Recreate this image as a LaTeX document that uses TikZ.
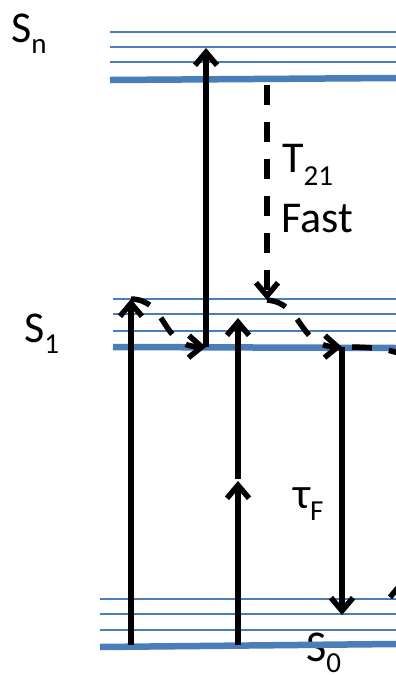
\documentclass[tikz,border=0pt]{standalone}
\usepackage{fontspec}
\setmainfont{Carlito}
\usetikzlibrary{arrows.meta}
\definecolor{lvl}{HTML}{4A7EBB}
\begin{document}
\begin{tikzpicture}[x=1pt,y=-1pt,
  thinlevel/.style={draw=lvl, line width=2pt},
  thicklevel/.style={draw=lvl, line width=6.5pt},
  arr/.style={line width=5.5pt, -{Straight Barb[length=13pt,width=22pt]}},
  darr/.style={arr, dash pattern=on 20pt off 17pt},
  dline/.style={line width=5.5pt, dash pattern=on 20pt off 17pt},
  lbl/.style={inner sep=0pt, anchor=base west, font=\fontsize{44}{44}\selectfont}]
\useasboundingbox (0,0) rectangle (396,675);
\clip (0,0) rectangle (396,675);
% labels
\node[lbl] (lsn) at (11,42) {S\raisebox{-11pt}{\fontsize{29}{29}\selectfont n}};
\node[lbl] (ls1) at (24,342) {S\raisebox{-11pt}{\fontsize{29}{29}\selectfont 1}};
\node[lbl] (ls0) at (306,661) {S\raisebox{-11pt}{\fontsize{29}{29}\selectfont 0}};
\node[lbl] (lt21) at (282,172) {T\raisebox{-13pt}{\fontsize{29}{29}\selectfont 21}};
\node[lbl] (lfast) at (281,232) {Fast};
\node[lbl] (ltau) at (293,508) {τ\raisebox{-12pt}{\fontsize{29}{29}\selectfont F}};
% levels
\foreach \y in {32,47,62} \draw[thinlevel] (110,\y) -- (396,\y);
\draw[thicklevel] (110,80) -- (396,78);
\foreach \y in {299,314,331} \draw[thinlevel] (113,\y) -- (396,\y);
\draw[thicklevel] (113,347) -- (396,348);
\foreach \y in {599,614,630} \draw[thinlevel] (100,\y) -- (396,\y);
\draw[thicklevel] (100,647) -- (396,644);
% points
\coordinate (p1b) at (131,645);
\coordinate (p1t) at (131,299);
\coordinate (p2b) at (206,347);
\coordinate (p2t) at (206,48);
\coordinate (p3b) at (238,645);
\coordinate (p3m) at (238,481);
\coordinate (p3n) at (238,479);
\coordinate (p3t) at (238,318);
\coordinate (pfb) at (342,347);
\coordinate (pft) at (342,615);
\coordinate (ptt) at (267,85);
\coordinate (ptb) at (267,300);
\coordinate (pr) at (425,370);
\coordinate (pxb) at (401,660);
\coordinate (pxt) at (401,580);
% solid arrows
\draw[arr] (p1b) -- (p1t);
\draw[arr] (p2b) -- (p2t);
\draw[arr] (p3b) -- (p3m);
\draw[arr] (p3n) -- (p3t);
\draw[arr] (pfb) -- (pft);
\draw[arr] (pxb) -- (pxt);
% dashed arrows
\draw[darr] (ptt) -- (ptb);
\draw[darr] (p1t) .. controls (168,300) and (160,346) .. (p2b);
\draw[darr] (ptb) .. controls (303,303) and (298,346) .. (pfb);
\draw[dline, dash phase=27pt] (pfb) .. controls (385,347) and (403,350) .. (pr);
\end{tikzpicture}
\end{document}
